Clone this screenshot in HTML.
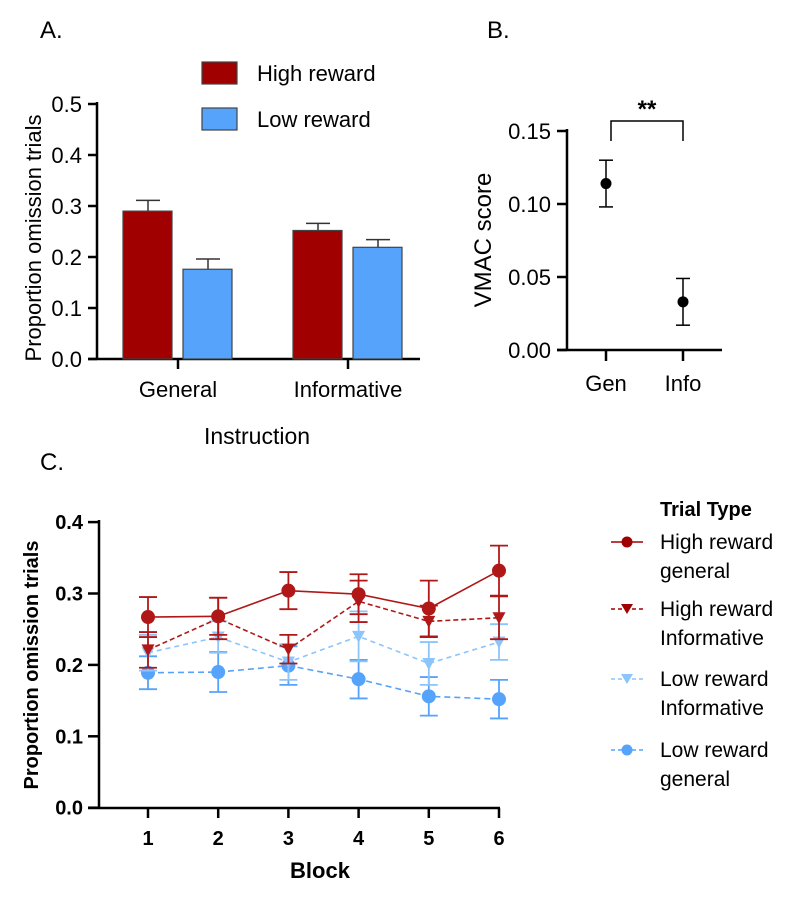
<!DOCTYPE html>
<html><head><meta charset="utf-8"><style>
body{margin:0;background:#fff}
svg{display:block;font-family:"Liberation Sans",Arial,sans-serif}
</style></head><body>
<svg id="fig" width="800" height="897" viewBox="0 0 800 897">
<text x="40" y="38" font-size="24">A.</text>
<text x="487" y="38" font-size="24">B.</text>
<text x="40" y="470" font-size="24">C.</text>
<g id="A"></g>
<g id="B"></g>
<g id="C"></g>
</svg>
<script>
// Panel A data
const aCategories=["General","Informative"];
const aHigh=[0.290,0.252];
const aHighErr=[0.021,0.014];
const aLow=[0.176,0.219];
const aLowErr=[0.020,0.015];
const aTicks=["0.0","0.1","0.2","0.3","0.4","0.5"];
// Panel B data
const bCategories=["Gen","Info"];
const bValues=[0.114,0.033];
const bErr=[0.016,0.016];
const bTicks=["0.00","0.05","0.10","0.15"];
// Panel C data
const cBlocks=["1","2","3","4","5","6"];
const cHighGen=[0.267,0.268,0.304,0.299,0.279,0.332];
const cHighGenErr=[0.028,0.026,0.026,0.028,0.039,0.035];
const cHighInf=[0.221,0.265,0.222,0.289,0.261,0.266];
const cHighInfErr=[0.025,0.029,0.020,0.029,0.022,0.030];
const cLowInf=[0.217,0.239,0.204,0.240,0.202,0.232];
const cLowInfErr=[0.025,0.022,0.025,0.035,0.030,0.025];
const cLowGen=[0.189,0.190,0.199,0.180,0.156,0.152];
const cLowGenErr=[0.023,0.028,0.027,0.027,0.027,0.027];
const cTicks=["0.0","0.1","0.2","0.3","0.4"];

const NS="http://www.w3.org/2000/svg";
function mk(parent,tag,attrs,text){const e=document.createElementNS(NS,tag);for(const k in attrs)e.setAttribute(k,attrs[k]);if(text!==undefined)e.textContent=text;parent.appendChild(e);return e;}

// ---------- Panel A ----------
(function(){
const g=document.getElementById('A');
const y=v=>359-v*510;
const groupX=[178,348];
mk(g,'line',{x1:97,y1:102,x2:97,y2:360,stroke:'#000','stroke-width':2.5});
mk(g,'line',{x1:88,y1:359,x2:420,y2:359,stroke:'#000','stroke-width':2.5});
aTicks.forEach((t,i)=>{const yy=y(parseFloat(t));
 mk(g,'line',{x1:88,y1:yy,x2:97,y2:yy,stroke:'#000','stroke-width':2.5});
 const tx=mk(g,'text',{x:82,y:yy+8,'font-size':22,'text-anchor':'end'},t);
 
 });
aCategories.forEach((c,i)=>{
 const gx=groupX[i];
 mk(g,'line',{x1:gx,y1:359,x2:gx,y2:369,stroke:'#000','stroke-width':2.5});
 const tx=mk(g,'text',{x:gx,y:397,'font-size':22,'text-anchor':'middle'},c);
 
 
 [[aHigh,aHighErr,'#a00000',gx-55],[aLow,aLowErr,'#55a3fb',gx+5]].forEach(([vals,errs,col,bx])=>{
  const v=vals[i],e=errs[i];
  mk(g,'line',{x1:bx+25,y1:y(v),x2:bx+25,y2:y(v+e),stroke:'#333','stroke-width':1.5});
  mk(g,'line',{x1:bx+13,y1:y(v+e),x2:bx+37,y2:y(v+e),stroke:'#333','stroke-width':1.5});
  const r=mk(g,'rect',{x:bx,y:y(v),width:49,height:359-y(v),fill:col,stroke:'#444','stroke-width':1.2});
  
  
 });
});
const yl=mk(g,'text',{x:0,y:0,'font-size':22,'text-anchor':'middle',transform:'translate(41,238) rotate(-90)'},'Proportion omission trials');


const xl=mk(g,'text',{x:257,y:444,'font-size':23,'text-anchor':'middle'},'Instruction');


[['High reward','#a00000',62],['Low reward','#55a3fb',108]].forEach(([l,c,yy])=>{
 const r=mk(g,'rect',{x:202,y:yy,width:35,height:22,fill:c,stroke:'#444','stroke-width':1.2});
 
 
 const t=mk(g,'text',{x:257,y:yy+19,'font-size':22},l);
 
 
});
})();

// ---------- Panel B ----------
(function(){
const g=document.getElementById('B');
const y=v=>350-v*1460;
const xs=[606,683];
mk(g,'line',{x1:567,y1:129,x2:567,y2:351,stroke:'#000','stroke-width':2.5});
mk(g,'line',{x1:557,y1:350,x2:722,y2:350,stroke:'#000','stroke-width':2.5});
bTicks.forEach(t=>{const yy=y(parseFloat(t));
 mk(g,'line',{x1:557,y1:yy,x2:567,y2:yy,stroke:'#000','stroke-width':2.5});
 const tx=mk(g,'text',{x:551,y:yy+8,'font-size':22,'text-anchor':'end'},t);
 
 });
bCategories.forEach((c,i)=>{
 const x=xs[i];
 mk(g,'line',{x1:x,y1:350,x2:x,y2:361,stroke:'#000','stroke-width':2.5});
 const tx=mk(g,'text',{x:x,y:391,'font-size':22,'text-anchor':'middle'},c);
 
 
 const v=bValues[i],e=bErr[i];
 mk(g,'line',{x1:x,y1:y(v+e),x2:x,y2:y(v-e),stroke:'#000','stroke-width':1.5});
 mk(g,'line',{x1:x-7,y1:y(v+e),x2:x+7,y2:y(v+e),stroke:'#000','stroke-width':1.5});
 mk(g,'line',{x1:x-7,y1:y(v-e),x2:x+7,y2:y(v-e),stroke:'#000','stroke-width':1.5});
 const p=mk(g,'circle',{cx:x,cy:y(v),r:5.5,fill:'#000'});
 
 
});
mk(g,'polyline',{points:'611,141 611,121 683,121 683,141',fill:'none',stroke:'#000','stroke-width':1.5});
const st=mk(g,'text',{x:647,y:117,'font-size':24,'font-weight':'bold','text-anchor':'middle'},'**');


const yl=mk(g,'text',{x:0,y:0,'font-size':24,'text-anchor':'middle',transform:'translate(491,240) rotate(-90)'},'VMAC score');


})();

// ---------- Panel C ----------
(function(){
const g=document.getElementById('C');
const y=v=>807.7-v*714;
const x=i=>148+i*70.2;
mk(g,'line',{x1:99,y1:520,x2:99,y2:809,stroke:'#000','stroke-width':2.5});
mk(g,'line',{x1:88,y1:808,x2:500,y2:808,stroke:'#000','stroke-width':2.5});
cTicks.forEach(t=>{const yy=y(parseFloat(t));
 mk(g,'line',{x1:88,y1:yy,x2:99,y2:yy,stroke:'#000','stroke-width':2.5});
 const tx=mk(g,'text',{x:83,y:yy+7,'font-size':20,'font-weight':'bold','text-anchor':'end'},t);
 
 });
cBlocks.forEach((b,i)=>{
 mk(g,'line',{x1:x(i),y1:808,x2:x(i),y2:818,stroke:'#000','stroke-width':2.5});
 const tx=mk(g,'text',{x:x(i),y:845,'font-size':20,'font-weight':'bold','text-anchor':'middle'},b);
 
 });
const series=[
 [cLowGen,cLowGenErr,'#55a3fb','6,4','circle','low-reward-general'],
 [cLowInf,cLowInfErr,'#8cc4fc','5,4','tri','low-reward-informative'],
 [cHighInf,cHighInfErr,'#b01818','5,3','tri','high-reward-informative'],
 [cHighGen,cHighGenErr,'#b01818','','circle','high-reward-general']];
series.forEach(([vals,errs,col,dash,shape,name])=>{
 vals.forEach((v,i)=>{const e=errs[i];
  mk(g,'line',{x1:x(i),y1:y(v+e),x2:x(i),y2:y(v-e),stroke:col,'stroke-width':1.8});
  mk(g,'line',{x1:x(i)-9,y1:y(v+e),x2:x(i)+9,y2:y(v+e),stroke:col,'stroke-width':1.8});
  mk(g,'line',{x1:x(i)-9,y1:y(v-e),x2:x(i)+9,y2:y(v-e),stroke:col,'stroke-width':1.8});});
 const ln=mk(g,'polyline',{points:vals.map((v,i)=>x(i)+','+y(v)).join(' '),fill:'none',stroke:col,'stroke-width':1.6,'stroke-dasharray':dash});
 
 
 vals.forEach((v,i)=>{let m;
  if(shape==='circle')m=mk(g,'circle',{cx:x(i),cy:y(v),r:7,fill:col});
  else m=mk(g,'polygon',{points:`${x(i)-6.5},${y(v)-5.5} ${x(i)+6.5},${y(v)-5.5} ${x(i)},${y(v)+6.5}`,fill:col});
  
  });
});
const yl=mk(g,'text',{x:0,y:0,'font-size':20,'font-weight':'bold','text-anchor':'middle',transform:'translate(38,665) rotate(-90)'},'Proportion omission trials');


const xl=mk(g,'text',{x:320,y:878,'font-size':22,'font-weight':'bold','text-anchor':'middle'},'Block');


const lt=mk(g,'text',{x:660,y:516,'font-size':20,'font-weight':'bold'},'Trial Type');


const leg=[['High reward','general','#a00000','','circle',549],['High reward','Informative','#a00000','4,3','tri',616],['Low reward','Informative','#8cc4fc','4,3','tri',686],['Low reward','general','#55a3fb','4,3','circle',757]];
leg.forEach(([l1,l2,col,dash,shape,yy])=>{
 const ly=yy-7;
 mk(g,'line',{x1:611,y1:ly,x2:643,y2:ly,stroke:col,'stroke-width':1.5,'stroke-dasharray':dash});
 if(shape==='circle')mk(g,'circle',{cx:627,cy:ly,r:5.5,fill:col});
 else mk(g,'polygon',{points:`621,${ly-5} 633,${ly-5} 627,${ly+5}`,fill:col});
 const t=mk(g,'text',{x:660,y:yy,'font-size':21},l1);
 
 
 const t2=mk(g,'text',{x:660,y:yy+29,'font-size':21},l2);
 
 
});
})();
</script>
</body></html>
